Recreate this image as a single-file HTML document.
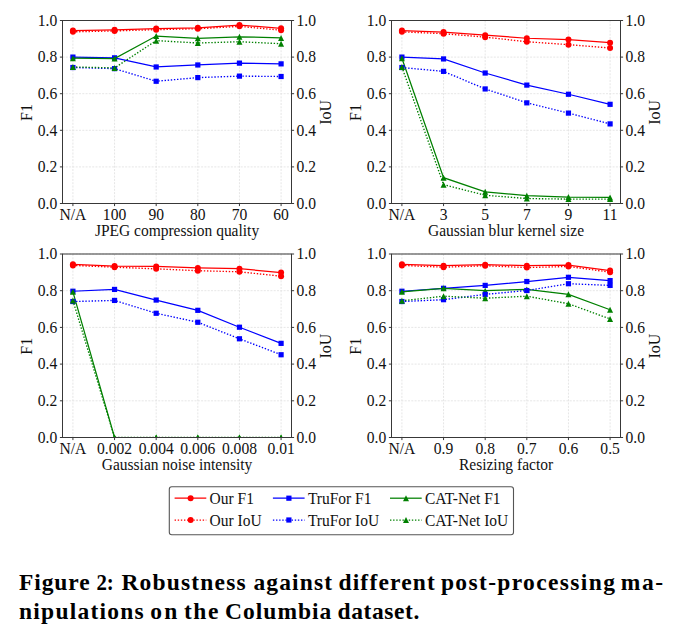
<!DOCTYPE html>
<html><head><meta charset="utf-8"><style>
html,body{margin:0;padding:0;background:#fff;}
svg{display:block;}
text{font-family:"Liberation Serif",serif;font-size:15px;fill:#111;}
.xl{font-size:16.4px;}
.tk{font-size:16.5px;}
.yl{font-size:16px;}
.lg{font-size:16.4px;}
.cap{font-family:"Liberation Serif",serif;font-weight:bold;font-size:23.5px;fill:#000;}
</style></head><body>
<svg width="673" height="635" viewBox="0 0 673 635">
<rect width="673" height="635" fill="#fff"/>
<line x1="72.91" y1="20.50" x2="72.91" y2="203.50" stroke="#e0e0e0" stroke-width="0.8" stroke-dasharray="2 1.3"/>
<line x1="114.55" y1="20.50" x2="114.55" y2="203.50" stroke="#e0e0e0" stroke-width="0.8" stroke-dasharray="2 1.3"/>
<line x1="156.18" y1="20.50" x2="156.18" y2="203.50" stroke="#e0e0e0" stroke-width="0.8" stroke-dasharray="2 1.3"/>
<line x1="197.82" y1="20.50" x2="197.82" y2="203.50" stroke="#e0e0e0" stroke-width="0.8" stroke-dasharray="2 1.3"/>
<line x1="239.45" y1="20.50" x2="239.45" y2="203.50" stroke="#e0e0e0" stroke-width="0.8" stroke-dasharray="2 1.3"/>
<line x1="281.09" y1="20.50" x2="281.09" y2="203.50" stroke="#e0e0e0" stroke-width="0.8" stroke-dasharray="2 1.3"/>
<line x1="62.50" y1="203.50" x2="291.50" y2="203.50" stroke="#e0e0e0" stroke-width="0.8" stroke-dasharray="2 1.3"/>
<line x1="62.50" y1="166.90" x2="291.50" y2="166.90" stroke="#e0e0e0" stroke-width="0.8" stroke-dasharray="2 1.3"/>
<line x1="62.50" y1="130.30" x2="291.50" y2="130.30" stroke="#e0e0e0" stroke-width="0.8" stroke-dasharray="2 1.3"/>
<line x1="62.50" y1="93.70" x2="291.50" y2="93.70" stroke="#e0e0e0" stroke-width="0.8" stroke-dasharray="2 1.3"/>
<line x1="62.50" y1="57.10" x2="291.50" y2="57.10" stroke="#e0e0e0" stroke-width="0.8" stroke-dasharray="2 1.3"/>
<line x1="62.50" y1="20.50" x2="291.50" y2="20.50" stroke="#e0e0e0" stroke-width="0.8" stroke-dasharray="2 1.3"/>
<clipPath id="c00"><rect x="62.50" y="20.50" width="229.00" height="183.00"/></clipPath><g clip-path="url(#c00)">
<polyline points="72.91,30.56 114.55,29.83 156.18,28.55 197.82,27.82 239.45,25.08 281.09,28.37" fill="none" stroke="#ff0000" stroke-width="1.25"/>
<circle cx="72.91" cy="30.56" r="3.0" fill="#ff0000"/>
<circle cx="114.55" cy="29.83" r="3.0" fill="#ff0000"/>
<circle cx="156.18" cy="28.55" r="3.0" fill="#ff0000"/>
<circle cx="197.82" cy="27.82" r="3.0" fill="#ff0000"/>
<circle cx="239.45" cy="25.08" r="3.0" fill="#ff0000"/>
<circle cx="281.09" cy="28.37" r="3.0" fill="#ff0000"/>
<polyline points="72.91,57.10 114.55,57.83 156.18,66.98 197.82,64.97 239.45,63.14 281.09,63.87" fill="none" stroke="#0000ff" stroke-width="1.25"/>
<rect x="70.31" y="54.50" width="5.2" height="5.2" fill="#0000ff"/>
<rect x="111.95" y="55.23" width="5.2" height="5.2" fill="#0000ff"/>
<rect x="153.58" y="64.38" width="5.2" height="5.2" fill="#0000ff"/>
<rect x="195.22" y="62.37" width="5.2" height="5.2" fill="#0000ff"/>
<rect x="236.85" y="60.54" width="5.2" height="5.2" fill="#0000ff"/>
<rect x="278.49" y="61.27" width="5.2" height="5.2" fill="#0000ff"/>
<polyline points="72.91,58.20 114.55,58.56 156.18,36.06 197.82,38.25 239.45,36.79 281.09,37.88" fill="none" stroke="#008000" stroke-width="1.25"/>
<path d="M72.91 55.20L69.91 61.20L75.91 61.20Z" fill="#008000"/>
<path d="M114.55 55.56L111.55 61.56L117.55 61.56Z" fill="#008000"/>
<path d="M156.18 33.06L153.18 39.06L159.18 39.06Z" fill="#008000"/>
<path d="M197.82 35.25L194.82 41.25L200.82 41.25Z" fill="#008000"/>
<path d="M239.45 33.79L236.45 39.79L242.45 39.79Z" fill="#008000"/>
<path d="M281.09 34.88L278.09 40.88L284.09 40.88Z" fill="#008000"/>
<polyline points="72.91,31.85 114.55,30.93 156.18,29.65 197.82,28.74 239.45,26.36 281.09,30.20" fill="none" stroke="#ff0000" stroke-width="1.35" stroke-dasharray="1.4 1.72"/>
<circle cx="72.91" cy="31.85" r="3.0" fill="#ff0000"/>
<circle cx="114.55" cy="30.93" r="3.0" fill="#ff0000"/>
<circle cx="156.18" cy="29.65" r="3.0" fill="#ff0000"/>
<circle cx="197.82" cy="28.74" r="3.0" fill="#ff0000"/>
<circle cx="239.45" cy="26.36" r="3.0" fill="#ff0000"/>
<circle cx="281.09" cy="30.20" r="3.0" fill="#ff0000"/>
<polyline points="72.91,67.53 114.55,68.63 156.18,81.26 197.82,77.60 239.45,76.13 281.09,76.50" fill="none" stroke="#0000ff" stroke-width="1.35" stroke-dasharray="1.4 1.72"/>
<rect x="70.31" y="64.93" width="5.2" height="5.2" fill="#0000ff"/>
<rect x="111.95" y="66.03" width="5.2" height="5.2" fill="#0000ff"/>
<rect x="153.58" y="78.66" width="5.2" height="5.2" fill="#0000ff"/>
<rect x="195.22" y="75.00" width="5.2" height="5.2" fill="#0000ff"/>
<rect x="236.85" y="73.53" width="5.2" height="5.2" fill="#0000ff"/>
<rect x="278.49" y="73.90" width="5.2" height="5.2" fill="#0000ff"/>
<polyline points="72.91,66.98 114.55,67.90 156.18,40.63 197.82,43.01 239.45,41.73 281.09,43.74" fill="none" stroke="#008000" stroke-width="1.35" stroke-dasharray="1.4 1.72"/>
<path d="M72.91 63.98L69.91 69.98L75.91 69.98Z" fill="#008000"/>
<path d="M114.55 64.90L111.55 70.90L117.55 70.90Z" fill="#008000"/>
<path d="M156.18 37.63L153.18 43.63L159.18 43.63Z" fill="#008000"/>
<path d="M197.82 40.01L194.82 46.01L200.82 46.01Z" fill="#008000"/>
<path d="M239.45 38.73L236.45 44.73L242.45 44.73Z" fill="#008000"/>
<path d="M281.09 40.74L278.09 46.74L284.09 46.74Z" fill="#008000"/>
</g>
<rect x="62.50" y="20.50" width="229.00" height="183.00" fill="none" stroke="#383838" stroke-width="1"/>
<line x1="59.90" y1="203.50" x2="62.50" y2="203.50" stroke="#383838" stroke-width="1"/>
<line x1="291.50" y1="203.50" x2="294.10" y2="203.50" stroke="#383838" stroke-width="1"/>
<text class="tk" transform="translate(57.20,208.80) scale(0.945,1)" text-anchor="end">0.0</text>
<text class="tk" transform="translate(296.50,208.80) scale(0.945,1)" text-anchor="start">0.0</text>
<line x1="59.90" y1="166.90" x2="62.50" y2="166.90" stroke="#383838" stroke-width="1"/>
<line x1="291.50" y1="166.90" x2="294.10" y2="166.90" stroke="#383838" stroke-width="1"/>
<text class="tk" transform="translate(57.20,172.20) scale(0.945,1)" text-anchor="end">0.2</text>
<text class="tk" transform="translate(296.50,172.20) scale(0.945,1)" text-anchor="start">0.2</text>
<line x1="59.90" y1="130.30" x2="62.50" y2="130.30" stroke="#383838" stroke-width="1"/>
<line x1="291.50" y1="130.30" x2="294.10" y2="130.30" stroke="#383838" stroke-width="1"/>
<text class="tk" transform="translate(57.20,135.60) scale(0.945,1)" text-anchor="end">0.4</text>
<text class="tk" transform="translate(296.50,135.60) scale(0.945,1)" text-anchor="start">0.4</text>
<line x1="59.90" y1="93.70" x2="62.50" y2="93.70" stroke="#383838" stroke-width="1"/>
<line x1="291.50" y1="93.70" x2="294.10" y2="93.70" stroke="#383838" stroke-width="1"/>
<text class="tk" transform="translate(57.20,99.00) scale(0.945,1)" text-anchor="end">0.6</text>
<text class="tk" transform="translate(296.50,99.00) scale(0.945,1)" text-anchor="start">0.6</text>
<line x1="59.90" y1="57.10" x2="62.50" y2="57.10" stroke="#383838" stroke-width="1"/>
<line x1="291.50" y1="57.10" x2="294.10" y2="57.10" stroke="#383838" stroke-width="1"/>
<text class="tk" transform="translate(57.20,62.40) scale(0.945,1)" text-anchor="end">0.8</text>
<text class="tk" transform="translate(296.50,62.40) scale(0.945,1)" text-anchor="start">0.8</text>
<line x1="59.90" y1="20.50" x2="62.50" y2="20.50" stroke="#383838" stroke-width="1"/>
<line x1="291.50" y1="20.50" x2="294.10" y2="20.50" stroke="#383838" stroke-width="1"/>
<text class="tk" transform="translate(57.20,25.80) scale(0.945,1)" text-anchor="end">1.0</text>
<text class="tk" transform="translate(296.50,25.80) scale(0.945,1)" text-anchor="start">1.0</text>
<line x1="72.91" y1="203.50" x2="72.91" y2="206.10" stroke="#383838" stroke-width="1"/>
<text class="tk" transform="translate(72.91,219.50) scale(0.945,1)" text-anchor="middle">N/A</text>
<line x1="114.55" y1="203.50" x2="114.55" y2="206.10" stroke="#383838" stroke-width="1"/>
<text class="tk" transform="translate(114.55,219.50) scale(0.945,1)" text-anchor="middle">100</text>
<line x1="156.18" y1="203.50" x2="156.18" y2="206.10" stroke="#383838" stroke-width="1"/>
<text class="tk" transform="translate(156.18,219.50) scale(0.945,1)" text-anchor="middle">90</text>
<line x1="197.82" y1="203.50" x2="197.82" y2="206.10" stroke="#383838" stroke-width="1"/>
<text class="tk" transform="translate(197.82,219.50) scale(0.945,1)" text-anchor="middle">80</text>
<line x1="239.45" y1="203.50" x2="239.45" y2="206.10" stroke="#383838" stroke-width="1"/>
<text class="tk" transform="translate(239.45,219.50) scale(0.945,1)" text-anchor="middle">70</text>
<line x1="281.09" y1="203.50" x2="281.09" y2="206.10" stroke="#383838" stroke-width="1"/>
<text class="tk" transform="translate(281.09,219.50) scale(0.945,1)" text-anchor="middle">60</text>
<text class="xl" transform="translate(177.00,236.30) scale(0.945,1)" text-anchor="middle">JPEG compression quality</text>
<text class="yl" transform="translate(31.70,112.50) rotate(-90)" text-anchor="middle">F1</text>
<text class="yl" transform="translate(330.80,112.30) rotate(-90)" text-anchor="middle">IoU</text>
<line x1="401.91" y1="20.50" x2="401.91" y2="203.50" stroke="#e0e0e0" stroke-width="0.8" stroke-dasharray="2 1.3"/>
<line x1="443.55" y1="20.50" x2="443.55" y2="203.50" stroke="#e0e0e0" stroke-width="0.8" stroke-dasharray="2 1.3"/>
<line x1="485.18" y1="20.50" x2="485.18" y2="203.50" stroke="#e0e0e0" stroke-width="0.8" stroke-dasharray="2 1.3"/>
<line x1="526.82" y1="20.50" x2="526.82" y2="203.50" stroke="#e0e0e0" stroke-width="0.8" stroke-dasharray="2 1.3"/>
<line x1="568.45" y1="20.50" x2="568.45" y2="203.50" stroke="#e0e0e0" stroke-width="0.8" stroke-dasharray="2 1.3"/>
<line x1="610.09" y1="20.50" x2="610.09" y2="203.50" stroke="#e0e0e0" stroke-width="0.8" stroke-dasharray="2 1.3"/>
<line x1="391.50" y1="203.50" x2="620.50" y2="203.50" stroke="#e0e0e0" stroke-width="0.8" stroke-dasharray="2 1.3"/>
<line x1="391.50" y1="166.90" x2="620.50" y2="166.90" stroke="#e0e0e0" stroke-width="0.8" stroke-dasharray="2 1.3"/>
<line x1="391.50" y1="130.30" x2="620.50" y2="130.30" stroke="#e0e0e0" stroke-width="0.8" stroke-dasharray="2 1.3"/>
<line x1="391.50" y1="93.70" x2="620.50" y2="93.70" stroke="#e0e0e0" stroke-width="0.8" stroke-dasharray="2 1.3"/>
<line x1="391.50" y1="57.10" x2="620.50" y2="57.10" stroke="#e0e0e0" stroke-width="0.8" stroke-dasharray="2 1.3"/>
<line x1="391.50" y1="20.50" x2="620.50" y2="20.50" stroke="#e0e0e0" stroke-width="0.8" stroke-dasharray="2 1.3"/>
<clipPath id="c01"><rect x="391.50" y="20.50" width="229.00" height="183.00"/></clipPath><g clip-path="url(#c01)">
<polyline points="401.91,30.56 443.55,32.03 485.18,35.14 526.82,38.25 568.45,39.53 610.09,42.64" fill="none" stroke="#ff0000" stroke-width="1.25"/>
<circle cx="401.91" cy="30.56" r="3.0" fill="#ff0000"/>
<circle cx="443.55" cy="32.03" r="3.0" fill="#ff0000"/>
<circle cx="485.18" cy="35.14" r="3.0" fill="#ff0000"/>
<circle cx="526.82" cy="38.25" r="3.0" fill="#ff0000"/>
<circle cx="568.45" cy="39.53" r="3.0" fill="#ff0000"/>
<circle cx="610.09" cy="42.64" r="3.0" fill="#ff0000"/>
<polyline points="401.91,57.10 443.55,58.93 485.18,73.02 526.82,85.10 568.45,94.25 610.09,104.31" fill="none" stroke="#0000ff" stroke-width="1.25"/>
<rect x="399.31" y="54.50" width="5.2" height="5.2" fill="#0000ff"/>
<rect x="440.95" y="56.33" width="5.2" height="5.2" fill="#0000ff"/>
<rect x="482.58" y="70.42" width="5.2" height="5.2" fill="#0000ff"/>
<rect x="524.22" y="82.50" width="5.2" height="5.2" fill="#0000ff"/>
<rect x="565.85" y="91.65" width="5.2" height="5.2" fill="#0000ff"/>
<rect x="607.49" y="101.71" width="5.2" height="5.2" fill="#0000ff"/>
<polyline points="401.91,58.20 443.55,177.70 485.18,191.79 526.82,195.63 568.45,197.09 610.09,197.46" fill="none" stroke="#008000" stroke-width="1.25"/>
<path d="M401.91 55.20L398.91 61.20L404.91 61.20Z" fill="#008000"/>
<path d="M443.55 174.70L440.55 180.70L446.55 180.70Z" fill="#008000"/>
<path d="M485.18 188.79L482.18 194.79L488.18 194.79Z" fill="#008000"/>
<path d="M526.82 192.63L523.82 198.63L529.82 198.63Z" fill="#008000"/>
<path d="M568.45 194.09L565.45 200.09L571.45 200.09Z" fill="#008000"/>
<path d="M610.09 194.46L607.09 200.46L613.09 200.46Z" fill="#008000"/>
<polyline points="401.91,31.85 443.55,33.68 485.18,37.15 526.82,41.73 568.45,44.66 610.09,47.95" fill="none" stroke="#ff0000" stroke-width="1.35" stroke-dasharray="1.4 1.72"/>
<circle cx="401.91" cy="31.85" r="3.0" fill="#ff0000"/>
<circle cx="443.55" cy="33.68" r="3.0" fill="#ff0000"/>
<circle cx="485.18" cy="37.15" r="3.0" fill="#ff0000"/>
<circle cx="526.82" cy="41.73" r="3.0" fill="#ff0000"/>
<circle cx="568.45" cy="44.66" r="3.0" fill="#ff0000"/>
<circle cx="610.09" cy="47.95" r="3.0" fill="#ff0000"/>
<polyline points="401.91,67.53 443.55,71.37 485.18,88.94 526.82,102.85 568.45,113.10 610.09,123.89" fill="none" stroke="#0000ff" stroke-width="1.35" stroke-dasharray="1.4 1.72"/>
<rect x="399.31" y="64.93" width="5.2" height="5.2" fill="#0000ff"/>
<rect x="440.95" y="68.77" width="5.2" height="5.2" fill="#0000ff"/>
<rect x="482.58" y="86.34" width="5.2" height="5.2" fill="#0000ff"/>
<rect x="524.22" y="100.25" width="5.2" height="5.2" fill="#0000ff"/>
<rect x="565.85" y="110.50" width="5.2" height="5.2" fill="#0000ff"/>
<rect x="607.49" y="121.30" width="5.2" height="5.2" fill="#0000ff"/>
<polyline points="401.91,66.98 443.55,184.65 485.18,195.26 526.82,198.56 568.45,199.11 610.09,199.11" fill="none" stroke="#008000" stroke-width="1.35" stroke-dasharray="1.4 1.72"/>
<path d="M401.91 63.98L398.91 69.98L404.91 69.98Z" fill="#008000"/>
<path d="M443.55 181.65L440.55 187.65L446.55 187.65Z" fill="#008000"/>
<path d="M485.18 192.26L482.18 198.26L488.18 198.26Z" fill="#008000"/>
<path d="M526.82 195.56L523.82 201.56L529.82 201.56Z" fill="#008000"/>
<path d="M568.45 196.11L565.45 202.11L571.45 202.11Z" fill="#008000"/>
<path d="M610.09 196.11L607.09 202.11L613.09 202.11Z" fill="#008000"/>
</g>
<rect x="391.50" y="20.50" width="229.00" height="183.00" fill="none" stroke="#383838" stroke-width="1"/>
<line x1="388.90" y1="203.50" x2="391.50" y2="203.50" stroke="#383838" stroke-width="1"/>
<line x1="620.50" y1="203.50" x2="623.10" y2="203.50" stroke="#383838" stroke-width="1"/>
<text class="tk" transform="translate(386.20,208.80) scale(0.945,1)" text-anchor="end">0.0</text>
<text class="tk" transform="translate(625.50,208.80) scale(0.945,1)" text-anchor="start">0.0</text>
<line x1="388.90" y1="166.90" x2="391.50" y2="166.90" stroke="#383838" stroke-width="1"/>
<line x1="620.50" y1="166.90" x2="623.10" y2="166.90" stroke="#383838" stroke-width="1"/>
<text class="tk" transform="translate(386.20,172.20) scale(0.945,1)" text-anchor="end">0.2</text>
<text class="tk" transform="translate(625.50,172.20) scale(0.945,1)" text-anchor="start">0.2</text>
<line x1="388.90" y1="130.30" x2="391.50" y2="130.30" stroke="#383838" stroke-width="1"/>
<line x1="620.50" y1="130.30" x2="623.10" y2="130.30" stroke="#383838" stroke-width="1"/>
<text class="tk" transform="translate(386.20,135.60) scale(0.945,1)" text-anchor="end">0.4</text>
<text class="tk" transform="translate(625.50,135.60) scale(0.945,1)" text-anchor="start">0.4</text>
<line x1="388.90" y1="93.70" x2="391.50" y2="93.70" stroke="#383838" stroke-width="1"/>
<line x1="620.50" y1="93.70" x2="623.10" y2="93.70" stroke="#383838" stroke-width="1"/>
<text class="tk" transform="translate(386.20,99.00) scale(0.945,1)" text-anchor="end">0.6</text>
<text class="tk" transform="translate(625.50,99.00) scale(0.945,1)" text-anchor="start">0.6</text>
<line x1="388.90" y1="57.10" x2="391.50" y2="57.10" stroke="#383838" stroke-width="1"/>
<line x1="620.50" y1="57.10" x2="623.10" y2="57.10" stroke="#383838" stroke-width="1"/>
<text class="tk" transform="translate(386.20,62.40) scale(0.945,1)" text-anchor="end">0.8</text>
<text class="tk" transform="translate(625.50,62.40) scale(0.945,1)" text-anchor="start">0.8</text>
<line x1="388.90" y1="20.50" x2="391.50" y2="20.50" stroke="#383838" stroke-width="1"/>
<line x1="620.50" y1="20.50" x2="623.10" y2="20.50" stroke="#383838" stroke-width="1"/>
<text class="tk" transform="translate(386.20,25.80) scale(0.945,1)" text-anchor="end">1.0</text>
<text class="tk" transform="translate(625.50,25.80) scale(0.945,1)" text-anchor="start">1.0</text>
<line x1="401.91" y1="203.50" x2="401.91" y2="206.10" stroke="#383838" stroke-width="1"/>
<text class="tk" transform="translate(401.91,219.50) scale(0.945,1)" text-anchor="middle">N/A</text>
<line x1="443.55" y1="203.50" x2="443.55" y2="206.10" stroke="#383838" stroke-width="1"/>
<text class="tk" transform="translate(443.55,219.50) scale(0.945,1)" text-anchor="middle">3</text>
<line x1="485.18" y1="203.50" x2="485.18" y2="206.10" stroke="#383838" stroke-width="1"/>
<text class="tk" transform="translate(485.18,219.50) scale(0.945,1)" text-anchor="middle">5</text>
<line x1="526.82" y1="203.50" x2="526.82" y2="206.10" stroke="#383838" stroke-width="1"/>
<text class="tk" transform="translate(526.82,219.50) scale(0.945,1)" text-anchor="middle">7</text>
<line x1="568.45" y1="203.50" x2="568.45" y2="206.10" stroke="#383838" stroke-width="1"/>
<text class="tk" transform="translate(568.45,219.50) scale(0.945,1)" text-anchor="middle">9</text>
<line x1="610.09" y1="203.50" x2="610.09" y2="206.10" stroke="#383838" stroke-width="1"/>
<text class="tk" transform="translate(610.09,219.50) scale(0.945,1)" text-anchor="middle">11</text>
<text class="xl" transform="translate(506.00,236.30) scale(0.945,1)" text-anchor="middle">Gaussian blur kernel size</text>
<text class="yl" transform="translate(360.70,112.50) rotate(-90)" text-anchor="middle">F1</text>
<text class="yl" transform="translate(659.80,112.30) rotate(-90)" text-anchor="middle">IoU</text>
<line x1="72.91" y1="254.00" x2="72.91" y2="437.50" stroke="#e0e0e0" stroke-width="0.8" stroke-dasharray="2 1.3"/>
<line x1="114.55" y1="254.00" x2="114.55" y2="437.50" stroke="#e0e0e0" stroke-width="0.8" stroke-dasharray="2 1.3"/>
<line x1="156.18" y1="254.00" x2="156.18" y2="437.50" stroke="#e0e0e0" stroke-width="0.8" stroke-dasharray="2 1.3"/>
<line x1="197.82" y1="254.00" x2="197.82" y2="437.50" stroke="#e0e0e0" stroke-width="0.8" stroke-dasharray="2 1.3"/>
<line x1="239.45" y1="254.00" x2="239.45" y2="437.50" stroke="#e0e0e0" stroke-width="0.8" stroke-dasharray="2 1.3"/>
<line x1="281.09" y1="254.00" x2="281.09" y2="437.50" stroke="#e0e0e0" stroke-width="0.8" stroke-dasharray="2 1.3"/>
<line x1="62.50" y1="437.50" x2="291.50" y2="437.50" stroke="#e0e0e0" stroke-width="0.8" stroke-dasharray="2 1.3"/>
<line x1="62.50" y1="400.80" x2="291.50" y2="400.80" stroke="#e0e0e0" stroke-width="0.8" stroke-dasharray="2 1.3"/>
<line x1="62.50" y1="364.10" x2="291.50" y2="364.10" stroke="#e0e0e0" stroke-width="0.8" stroke-dasharray="2 1.3"/>
<line x1="62.50" y1="327.40" x2="291.50" y2="327.40" stroke="#e0e0e0" stroke-width="0.8" stroke-dasharray="2 1.3"/>
<line x1="62.50" y1="290.70" x2="291.50" y2="290.70" stroke="#e0e0e0" stroke-width="0.8" stroke-dasharray="2 1.3"/>
<line x1="62.50" y1="254.00" x2="291.50" y2="254.00" stroke="#e0e0e0" stroke-width="0.8" stroke-dasharray="2 1.3"/>
<clipPath id="c10"><rect x="62.50" y="254.00" width="229.00" height="183.50"/></clipPath><g clip-path="url(#c10)">
<polyline points="72.91,264.28 114.55,266.11 156.18,266.48 197.82,267.95 239.45,268.68 281.09,272.53" fill="none" stroke="#ff0000" stroke-width="1.25"/>
<circle cx="72.91" cy="264.28" r="3.0" fill="#ff0000"/>
<circle cx="114.55" cy="266.11" r="3.0" fill="#ff0000"/>
<circle cx="156.18" cy="266.48" r="3.0" fill="#ff0000"/>
<circle cx="197.82" cy="267.95" r="3.0" fill="#ff0000"/>
<circle cx="239.45" cy="268.68" r="3.0" fill="#ff0000"/>
<circle cx="281.09" cy="272.53" r="3.0" fill="#ff0000"/>
<polyline points="72.91,291.25 114.55,289.42 156.18,300.06 197.82,310.33 239.45,327.22 281.09,343.36" fill="none" stroke="#0000ff" stroke-width="1.25"/>
<rect x="70.31" y="288.65" width="5.2" height="5.2" fill="#0000ff"/>
<rect x="111.95" y="286.82" width="5.2" height="5.2" fill="#0000ff"/>
<rect x="153.58" y="297.46" width="5.2" height="5.2" fill="#0000ff"/>
<rect x="195.22" y="307.73" width="5.2" height="5.2" fill="#0000ff"/>
<rect x="236.85" y="324.62" width="5.2" height="5.2" fill="#0000ff"/>
<rect x="278.49" y="340.76" width="5.2" height="5.2" fill="#0000ff"/>
<polyline points="72.91,291.80 114.55,437.50 156.18,437.50 197.82,437.50 239.45,437.50 281.09,437.50" fill="none" stroke="#008000" stroke-width="1.25"/>
<path d="M72.91 288.80L69.91 294.80L75.91 294.80Z" fill="#008000"/>
<path d="M114.55 434.50L111.55 440.50L117.55 440.50Z" fill="#008000"/>
<path d="M156.18 434.50L153.18 440.50L159.18 440.50Z" fill="#008000"/>
<path d="M197.82 434.50L194.82 440.50L200.82 440.50Z" fill="#008000"/>
<path d="M239.45 434.50L236.45 440.50L242.45 440.50Z" fill="#008000"/>
<path d="M281.09 434.50L278.09 440.50L284.09 440.50Z" fill="#008000"/>
<polyline points="72.91,265.38 114.55,267.21 156.18,268.86 197.82,270.70 239.45,271.80 281.09,276.20" fill="none" stroke="#ff0000" stroke-width="1.35" stroke-dasharray="1.4 1.72"/>
<circle cx="72.91" cy="265.38" r="3.0" fill="#ff0000"/>
<circle cx="114.55" cy="267.21" r="3.0" fill="#ff0000"/>
<circle cx="156.18" cy="268.86" r="3.0" fill="#ff0000"/>
<circle cx="197.82" cy="270.70" r="3.0" fill="#ff0000"/>
<circle cx="239.45" cy="271.80" r="3.0" fill="#ff0000"/>
<circle cx="281.09" cy="276.20" r="3.0" fill="#ff0000"/>
<polyline points="72.91,301.53 114.55,300.43 156.18,313.27 197.82,322.26 239.45,338.78 281.09,354.74" fill="none" stroke="#0000ff" stroke-width="1.35" stroke-dasharray="1.4 1.72"/>
<rect x="70.31" y="298.93" width="5.2" height="5.2" fill="#0000ff"/>
<rect x="111.95" y="297.83" width="5.2" height="5.2" fill="#0000ff"/>
<rect x="153.58" y="310.67" width="5.2" height="5.2" fill="#0000ff"/>
<rect x="195.22" y="319.66" width="5.2" height="5.2" fill="#0000ff"/>
<rect x="236.85" y="336.18" width="5.2" height="5.2" fill="#0000ff"/>
<rect x="278.49" y="352.14" width="5.2" height="5.2" fill="#0000ff"/>
<polyline points="72.91,300.61 114.55,437.50 156.18,437.50 197.82,437.50 239.45,437.50 281.09,437.50" fill="none" stroke="#008000" stroke-width="1.35" stroke-dasharray="1.4 1.72"/>
<path d="M72.91 297.61L69.91 303.61L75.91 303.61Z" fill="#008000"/>
<path d="M114.55 434.50L111.55 440.50L117.55 440.50Z" fill="#008000"/>
<path d="M156.18 434.50L153.18 440.50L159.18 440.50Z" fill="#008000"/>
<path d="M197.82 434.50L194.82 440.50L200.82 440.50Z" fill="#008000"/>
<path d="M239.45 434.50L236.45 440.50L242.45 440.50Z" fill="#008000"/>
<path d="M281.09 434.50L278.09 440.50L284.09 440.50Z" fill="#008000"/>
</g>
<rect x="62.50" y="254.00" width="229.00" height="183.50" fill="none" stroke="#383838" stroke-width="1"/>
<line x1="59.90" y1="437.50" x2="62.50" y2="437.50" stroke="#383838" stroke-width="1"/>
<line x1="291.50" y1="437.50" x2="294.10" y2="437.50" stroke="#383838" stroke-width="1"/>
<text class="tk" transform="translate(57.20,442.80) scale(0.945,1)" text-anchor="end">0.0</text>
<text class="tk" transform="translate(296.50,442.80) scale(0.945,1)" text-anchor="start">0.0</text>
<line x1="59.90" y1="400.80" x2="62.50" y2="400.80" stroke="#383838" stroke-width="1"/>
<line x1="291.50" y1="400.80" x2="294.10" y2="400.80" stroke="#383838" stroke-width="1"/>
<text class="tk" transform="translate(57.20,406.10) scale(0.945,1)" text-anchor="end">0.2</text>
<text class="tk" transform="translate(296.50,406.10) scale(0.945,1)" text-anchor="start">0.2</text>
<line x1="59.90" y1="364.10" x2="62.50" y2="364.10" stroke="#383838" stroke-width="1"/>
<line x1="291.50" y1="364.10" x2="294.10" y2="364.10" stroke="#383838" stroke-width="1"/>
<text class="tk" transform="translate(57.20,369.40) scale(0.945,1)" text-anchor="end">0.4</text>
<text class="tk" transform="translate(296.50,369.40) scale(0.945,1)" text-anchor="start">0.4</text>
<line x1="59.90" y1="327.40" x2="62.50" y2="327.40" stroke="#383838" stroke-width="1"/>
<line x1="291.50" y1="327.40" x2="294.10" y2="327.40" stroke="#383838" stroke-width="1"/>
<text class="tk" transform="translate(57.20,332.70) scale(0.945,1)" text-anchor="end">0.6</text>
<text class="tk" transform="translate(296.50,332.70) scale(0.945,1)" text-anchor="start">0.6</text>
<line x1="59.90" y1="290.70" x2="62.50" y2="290.70" stroke="#383838" stroke-width="1"/>
<line x1="291.50" y1="290.70" x2="294.10" y2="290.70" stroke="#383838" stroke-width="1"/>
<text class="tk" transform="translate(57.20,296.00) scale(0.945,1)" text-anchor="end">0.8</text>
<text class="tk" transform="translate(296.50,296.00) scale(0.945,1)" text-anchor="start">0.8</text>
<line x1="59.90" y1="254.00" x2="62.50" y2="254.00" stroke="#383838" stroke-width="1"/>
<line x1="291.50" y1="254.00" x2="294.10" y2="254.00" stroke="#383838" stroke-width="1"/>
<text class="tk" transform="translate(57.20,259.30) scale(0.945,1)" text-anchor="end">1.0</text>
<text class="tk" transform="translate(296.50,259.30) scale(0.945,1)" text-anchor="start">1.0</text>
<line x1="72.91" y1="437.50" x2="72.91" y2="440.10" stroke="#383838" stroke-width="1"/>
<text class="tk" transform="translate(72.91,453.50) scale(0.945,1)" text-anchor="middle">N/A</text>
<line x1="114.55" y1="437.50" x2="114.55" y2="440.10" stroke="#383838" stroke-width="1"/>
<text class="tk" transform="translate(114.55,453.50) scale(0.945,1)" text-anchor="middle">0.002</text>
<line x1="156.18" y1="437.50" x2="156.18" y2="440.10" stroke="#383838" stroke-width="1"/>
<text class="tk" transform="translate(156.18,453.50) scale(0.945,1)" text-anchor="middle">0.004</text>
<line x1="197.82" y1="437.50" x2="197.82" y2="440.10" stroke="#383838" stroke-width="1"/>
<text class="tk" transform="translate(197.82,453.50) scale(0.945,1)" text-anchor="middle">0.006</text>
<line x1="239.45" y1="437.50" x2="239.45" y2="440.10" stroke="#383838" stroke-width="1"/>
<text class="tk" transform="translate(239.45,453.50) scale(0.945,1)" text-anchor="middle">0.008</text>
<line x1="281.09" y1="437.50" x2="281.09" y2="440.10" stroke="#383838" stroke-width="1"/>
<text class="tk" transform="translate(281.09,453.50) scale(0.945,1)" text-anchor="middle">0.01</text>
<text class="xl" transform="translate(177.00,470.30) scale(0.945,1)" text-anchor="middle">Gaussian noise intensity</text>
<text class="yl" transform="translate(31.70,346.25) rotate(-90)" text-anchor="middle">F1</text>
<text class="yl" transform="translate(330.80,346.05) rotate(-90)" text-anchor="middle">IoU</text>
<line x1="401.91" y1="254.00" x2="401.91" y2="437.50" stroke="#e0e0e0" stroke-width="0.8" stroke-dasharray="2 1.3"/>
<line x1="443.55" y1="254.00" x2="443.55" y2="437.50" stroke="#e0e0e0" stroke-width="0.8" stroke-dasharray="2 1.3"/>
<line x1="485.18" y1="254.00" x2="485.18" y2="437.50" stroke="#e0e0e0" stroke-width="0.8" stroke-dasharray="2 1.3"/>
<line x1="526.82" y1="254.00" x2="526.82" y2="437.50" stroke="#e0e0e0" stroke-width="0.8" stroke-dasharray="2 1.3"/>
<line x1="568.45" y1="254.00" x2="568.45" y2="437.50" stroke="#e0e0e0" stroke-width="0.8" stroke-dasharray="2 1.3"/>
<line x1="610.09" y1="254.00" x2="610.09" y2="437.50" stroke="#e0e0e0" stroke-width="0.8" stroke-dasharray="2 1.3"/>
<line x1="391.50" y1="437.50" x2="620.50" y2="437.50" stroke="#e0e0e0" stroke-width="0.8" stroke-dasharray="2 1.3"/>
<line x1="391.50" y1="400.80" x2="620.50" y2="400.80" stroke="#e0e0e0" stroke-width="0.8" stroke-dasharray="2 1.3"/>
<line x1="391.50" y1="364.10" x2="620.50" y2="364.10" stroke="#e0e0e0" stroke-width="0.8" stroke-dasharray="2 1.3"/>
<line x1="391.50" y1="327.40" x2="620.50" y2="327.40" stroke="#e0e0e0" stroke-width="0.8" stroke-dasharray="2 1.3"/>
<line x1="391.50" y1="290.70" x2="620.50" y2="290.70" stroke="#e0e0e0" stroke-width="0.8" stroke-dasharray="2 1.3"/>
<line x1="391.50" y1="254.00" x2="620.50" y2="254.00" stroke="#e0e0e0" stroke-width="0.8" stroke-dasharray="2 1.3"/>
<clipPath id="c11"><rect x="391.50" y="254.00" width="229.00" height="183.50"/></clipPath><g clip-path="url(#c11)">
<polyline points="401.91,264.28 443.55,265.74 485.18,264.64 526.82,265.74 568.45,265.01 610.09,270.51" fill="none" stroke="#ff0000" stroke-width="1.25"/>
<circle cx="401.91" cy="264.28" r="3.0" fill="#ff0000"/>
<circle cx="443.55" cy="265.74" r="3.0" fill="#ff0000"/>
<circle cx="485.18" cy="264.64" r="3.0" fill="#ff0000"/>
<circle cx="526.82" cy="265.74" r="3.0" fill="#ff0000"/>
<circle cx="568.45" cy="265.01" r="3.0" fill="#ff0000"/>
<circle cx="610.09" cy="270.51" r="3.0" fill="#ff0000"/>
<polyline points="401.91,291.25 443.55,288.31 485.18,285.38 526.82,281.52 568.45,277.30 610.09,280.61" fill="none" stroke="#0000ff" stroke-width="1.25"/>
<rect x="399.31" y="288.65" width="5.2" height="5.2" fill="#0000ff"/>
<rect x="440.95" y="285.71" width="5.2" height="5.2" fill="#0000ff"/>
<rect x="482.58" y="282.78" width="5.2" height="5.2" fill="#0000ff"/>
<rect x="524.22" y="278.92" width="5.2" height="5.2" fill="#0000ff"/>
<rect x="565.85" y="274.70" width="5.2" height="5.2" fill="#0000ff"/>
<rect x="607.49" y="278.01" width="5.2" height="5.2" fill="#0000ff"/>
<polyline points="401.91,291.80 443.55,288.31 485.18,290.70 526.82,289.42 568.45,294.37 610.09,309.78" fill="none" stroke="#008000" stroke-width="1.25"/>
<path d="M401.91 288.80L398.91 294.80L404.91 294.80Z" fill="#008000"/>
<path d="M443.55 285.31L440.55 291.31L446.55 291.31Z" fill="#008000"/>
<path d="M485.18 287.70L482.18 293.70L488.18 293.70Z" fill="#008000"/>
<path d="M526.82 286.42L523.82 292.42L529.82 292.42Z" fill="#008000"/>
<path d="M568.45 291.37L565.45 297.37L571.45 297.37Z" fill="#008000"/>
<path d="M610.09 306.78L607.09 312.78L613.09 312.78Z" fill="#008000"/>
<polyline points="401.91,265.38 443.55,267.21 485.18,265.74 526.82,267.58 568.45,266.48 610.09,272.17" fill="none" stroke="#ff0000" stroke-width="1.35" stroke-dasharray="1.4 1.72"/>
<circle cx="401.91" cy="265.38" r="3.0" fill="#ff0000"/>
<circle cx="443.55" cy="267.21" r="3.0" fill="#ff0000"/>
<circle cx="485.18" cy="265.74" r="3.0" fill="#ff0000"/>
<circle cx="526.82" cy="267.58" r="3.0" fill="#ff0000"/>
<circle cx="568.45" cy="266.48" r="3.0" fill="#ff0000"/>
<circle cx="610.09" cy="272.17" r="3.0" fill="#ff0000"/>
<polyline points="401.91,301.53 443.55,299.69 485.18,294.37 526.82,290.52 568.45,283.73 610.09,285.38" fill="none" stroke="#0000ff" stroke-width="1.35" stroke-dasharray="1.4 1.72"/>
<rect x="399.31" y="298.93" width="5.2" height="5.2" fill="#0000ff"/>
<rect x="440.95" y="297.09" width="5.2" height="5.2" fill="#0000ff"/>
<rect x="482.58" y="291.77" width="5.2" height="5.2" fill="#0000ff"/>
<rect x="524.22" y="287.92" width="5.2" height="5.2" fill="#0000ff"/>
<rect x="565.85" y="281.13" width="5.2" height="5.2" fill="#0000ff"/>
<rect x="607.49" y="282.78" width="5.2" height="5.2" fill="#0000ff"/>
<polyline points="401.91,300.79 443.55,296.20 485.18,298.22 526.82,296.20 568.45,303.73 610.09,318.96" fill="none" stroke="#008000" stroke-width="1.35" stroke-dasharray="1.4 1.72"/>
<path d="M401.91 297.79L398.91 303.79L404.91 303.79Z" fill="#008000"/>
<path d="M443.55 293.20L440.55 299.20L446.55 299.20Z" fill="#008000"/>
<path d="M485.18 295.22L482.18 301.22L488.18 301.22Z" fill="#008000"/>
<path d="M526.82 293.20L523.82 299.20L529.82 299.20Z" fill="#008000"/>
<path d="M568.45 300.73L565.45 306.73L571.45 306.73Z" fill="#008000"/>
<path d="M610.09 315.96L607.09 321.96L613.09 321.96Z" fill="#008000"/>
</g>
<rect x="391.50" y="254.00" width="229.00" height="183.50" fill="none" stroke="#383838" stroke-width="1"/>
<line x1="388.90" y1="437.50" x2="391.50" y2="437.50" stroke="#383838" stroke-width="1"/>
<line x1="620.50" y1="437.50" x2="623.10" y2="437.50" stroke="#383838" stroke-width="1"/>
<text class="tk" transform="translate(386.20,442.80) scale(0.945,1)" text-anchor="end">0.0</text>
<text class="tk" transform="translate(625.50,442.80) scale(0.945,1)" text-anchor="start">0.0</text>
<line x1="388.90" y1="400.80" x2="391.50" y2="400.80" stroke="#383838" stroke-width="1"/>
<line x1="620.50" y1="400.80" x2="623.10" y2="400.80" stroke="#383838" stroke-width="1"/>
<text class="tk" transform="translate(386.20,406.10) scale(0.945,1)" text-anchor="end">0.2</text>
<text class="tk" transform="translate(625.50,406.10) scale(0.945,1)" text-anchor="start">0.2</text>
<line x1="388.90" y1="364.10" x2="391.50" y2="364.10" stroke="#383838" stroke-width="1"/>
<line x1="620.50" y1="364.10" x2="623.10" y2="364.10" stroke="#383838" stroke-width="1"/>
<text class="tk" transform="translate(386.20,369.40) scale(0.945,1)" text-anchor="end">0.4</text>
<text class="tk" transform="translate(625.50,369.40) scale(0.945,1)" text-anchor="start">0.4</text>
<line x1="388.90" y1="327.40" x2="391.50" y2="327.40" stroke="#383838" stroke-width="1"/>
<line x1="620.50" y1="327.40" x2="623.10" y2="327.40" stroke="#383838" stroke-width="1"/>
<text class="tk" transform="translate(386.20,332.70) scale(0.945,1)" text-anchor="end">0.6</text>
<text class="tk" transform="translate(625.50,332.70) scale(0.945,1)" text-anchor="start">0.6</text>
<line x1="388.90" y1="290.70" x2="391.50" y2="290.70" stroke="#383838" stroke-width="1"/>
<line x1="620.50" y1="290.70" x2="623.10" y2="290.70" stroke="#383838" stroke-width="1"/>
<text class="tk" transform="translate(386.20,296.00) scale(0.945,1)" text-anchor="end">0.8</text>
<text class="tk" transform="translate(625.50,296.00) scale(0.945,1)" text-anchor="start">0.8</text>
<line x1="388.90" y1="254.00" x2="391.50" y2="254.00" stroke="#383838" stroke-width="1"/>
<line x1="620.50" y1="254.00" x2="623.10" y2="254.00" stroke="#383838" stroke-width="1"/>
<text class="tk" transform="translate(386.20,259.30) scale(0.945,1)" text-anchor="end">1.0</text>
<text class="tk" transform="translate(625.50,259.30) scale(0.945,1)" text-anchor="start">1.0</text>
<line x1="401.91" y1="437.50" x2="401.91" y2="440.10" stroke="#383838" stroke-width="1"/>
<text class="tk" transform="translate(401.91,453.50) scale(0.945,1)" text-anchor="middle">N/A</text>
<line x1="443.55" y1="437.50" x2="443.55" y2="440.10" stroke="#383838" stroke-width="1"/>
<text class="tk" transform="translate(443.55,453.50) scale(0.945,1)" text-anchor="middle">0.9</text>
<line x1="485.18" y1="437.50" x2="485.18" y2="440.10" stroke="#383838" stroke-width="1"/>
<text class="tk" transform="translate(485.18,453.50) scale(0.945,1)" text-anchor="middle">0.8</text>
<line x1="526.82" y1="437.50" x2="526.82" y2="440.10" stroke="#383838" stroke-width="1"/>
<text class="tk" transform="translate(526.82,453.50) scale(0.945,1)" text-anchor="middle">0.7</text>
<line x1="568.45" y1="437.50" x2="568.45" y2="440.10" stroke="#383838" stroke-width="1"/>
<text class="tk" transform="translate(568.45,453.50) scale(0.945,1)" text-anchor="middle">0.6</text>
<line x1="610.09" y1="437.50" x2="610.09" y2="440.10" stroke="#383838" stroke-width="1"/>
<text class="tk" transform="translate(610.09,453.50) scale(0.945,1)" text-anchor="middle">0.5</text>
<text class="xl" transform="translate(506.00,470.30) scale(0.945,1)" text-anchor="middle">Resizing factor</text>
<text class="yl" transform="translate(360.70,346.25) rotate(-90)" text-anchor="middle">F1</text>
<text class="yl" transform="translate(659.80,346.05) rotate(-90)" text-anchor="middle">IoU</text>
<rect x="169.3" y="486.8" width="344.2" height="48.0" rx="2.5" fill="#fff" stroke="#555" stroke-width="1.1"/>
<line x1="174.60" y1="498.2" x2="206.30" y2="498.2" stroke="#ff0000" stroke-width="1.25"/>
<circle cx="190.60" cy="498.20" r="3.0" fill="#ff0000"/>
<text class="lg" transform="translate(209.60,503.80) scale(0.945,1)">Our F1</text>
<line x1="174.60" y1="520.0" x2="206.30" y2="520.0" stroke="#ff0000" stroke-width="1.25" stroke-dasharray="1.4 1.72"/>
<circle cx="190.60" cy="520.00" r="3.0" fill="#ff0000"/>
<text class="lg" transform="translate(209.60,525.60) scale(0.945,1)">Our IoU</text>
<line x1="272.90" y1="498.2" x2="304.60" y2="498.2" stroke="#0000ff" stroke-width="1.25"/>
<rect x="286.30" y="495.60" width="5.2" height="5.2" fill="#0000ff"/>
<text class="lg" transform="translate(307.90,503.80) scale(0.945,1)">TruFor F1</text>
<line x1="272.90" y1="520.0" x2="304.60" y2="520.0" stroke="#0000ff" stroke-width="1.25" stroke-dasharray="1.4 1.72"/>
<rect x="286.30" y="517.40" width="5.2" height="5.2" fill="#0000ff"/>
<text class="lg" transform="translate(307.90,525.60) scale(0.945,1)">TruFor IoU</text>
<line x1="390.00" y1="498.2" x2="421.70" y2="498.2" stroke="#008000" stroke-width="1.25"/>
<path d="M406.00 495.20L403.00 501.20L409.00 501.20Z" fill="#008000"/>
<text class="lg" transform="translate(425.00,503.80) scale(0.945,1)">CAT-Net F1</text>
<line x1="390.00" y1="520.0" x2="421.70" y2="520.0" stroke="#008000" stroke-width="1.25" stroke-dasharray="1.4 1.72"/>
<path d="M406.00 517.00L403.00 523.00L409.00 523.00Z" fill="#008000"/>
<text class="lg" transform="translate(425.00,525.60) scale(0.945,1)">CAT-Net IoU</text>
<text class="cap" x="19.0" y="590" textLength="70.6" lengthAdjust="spacing">Figure</text>
<text class="cap" x="96.4" y="590" textLength="17.4" lengthAdjust="spacingAndGlyphs">2:</text>
<text class="cap" x="121.4" y="590" textLength="124.3" lengthAdjust="spacing">Robustness</text>
<text class="cap" x="253.4" y="590" textLength="78.6" lengthAdjust="spacing">against</text>
<text class="cap" x="338.4" y="590" textLength="96.5" lengthAdjust="spacing">different</text>
<text class="cap" x="440.9" y="590" textLength="174.0" lengthAdjust="spacing">post-processing</text>
<text class="cap" x="620.8" y="590" textLength="42.4" lengthAdjust="spacing">ma-</text>
<text class="cap" x="19.0" y="619" textLength="124.7" lengthAdjust="spacing">nipulations</text>
<text class="cap" x="150.2" y="619" textLength="27.1" lengthAdjust="spacing">on</text>
<text class="cap" x="183.9" y="619" textLength="34.6" lengthAdjust="spacing">the</text>
<text class="cap" x="225.1" y="619" textLength="106.2" lengthAdjust="spacing">Columbia</text>
<text class="cap" x="337.5" y="619" textLength="81.9" lengthAdjust="spacing">dataset.</text>
</svg>
</body></html>
